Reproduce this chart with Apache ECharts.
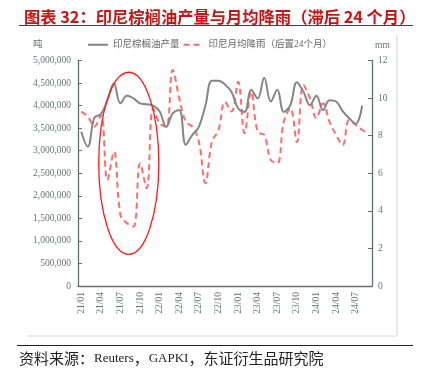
<!DOCTYPE html>
<html>
<head>
<meta charset="utf-8">
<script src="https://cdn.jsdelivr.net/npm/echarts@6/dist/echarts.min.js"></script>
<style>
  html, body { margin: 0; padding: 0; background: #fff; }
  #chart { width: 422px; height: 377px; }
</style>
</head>
<body>
<div id="chart"></div>
<script>
// monthly categories, labels shown every 3rd month
const months = [
  "21/01", "21/02", "21/03", "21/04", "21/05", "21/06", "21/07", "21/08", "21/09", "21/10", "21/11", "21/12",
  "22/01", "22/02", "22/03", "22/04", "22/05", "22/06", "22/07", "22/08", "22/09", "22/10", "22/11", "22/12",
  "23/01", "23/02", "23/03", "23/04", "23/05", "23/06", "23/07", "23/08", "23/09", "23/10", "23/11", "23/12",
  "24/01", "24/02", "24/03", "24/04", "24/05", "24/06", "24/07", "24/08", "24/09"
];
// 印尼棕榈油产量 (吨)
const production = [
  3420000, 3090000, 3730000, 3810000, 4120000, 4490000, 4050000, 4220000, 4160000, 4050000, 4030000, 4000000,
  3870000, 3530000, 3830000, 3900000, 3130000, 3350000, 3530000, 4000000, 4550000, 4550000, 4470000, 4300000,
  3940000, 3860000, 4350000, 4160000, 4620000, 4090000, 4350000, 3860000, 4010000, 4520000, 4310000, 4010000,
  4220000, 3900000, 4120000, 4090000, 3880000, 3720000, 3600000, 4000000
];
// 印尼月均降雨，后置24个月 (mm)
const rainfall = [
  9.28, 9.01, 8.48, 9.10, 5.64, 7.15, 3.78, 3.34, 3.16, 6.53, 5.20, 9.45,
  8.66, 8.48, 11.5, 9.99, 8.74, 8.48, 7.68, 5.47, 7.68, 8.30, 9.80, 9.28,
  10.87, 8.13, 10.34, 8.21, 8.04, 6.71, 6.53, 8.74, 9.46, 7.65, 10.70, 9.99,
  8.93, 9.72, 8.74, 8.04, 7.50, 8.83, 8.57, 8.30, 8.13
];
const seriesNames = ["印尼棕榈油产量", "印尼月均降雨（后置24个月）"];

const axisColor = "#5f7272";
const labelColor = "#667676";
const serif = "Liberation Serif, Noto Sans CJK SC";
const noSymbol = { color: "transparent", borderColor: "transparent", borderWidth: 0 };

const chart = echarts.init(document.getElementById("chart"));

const options = {
  animation: false,
  title: {
    text: "图表 32：印尼棕榈油产量与月均降雨（滞后 24 个月）",
    left: 19,
    top: 4,
    textStyle: {
      color: "#cc1111",
      fontSize: 16.3,
      fontWeight: "bold",
      fontFamily: "Noto Sans CJK SC"
    }
  },
  legend: {
    left: 87,
    top: 40,
    padding: 0,
    itemWidth: 20,
    itemHeight: 10,
    itemGap: 3,
    textStyle: { color: "#666", fontSize: 9.5, fontFamily: serif },
    data: [
      { name: seriesNames[0], itemStyle: noSymbol },
      { name: seriesNames[1], itemStyle: noSymbol }
    ]
  },
  grid: { left: 78, right: 50, top: 60.5, bottom: 91 },
  xAxis: {
    type: "category",
    data: months,
    boundaryGap: true,
    axisLine: { lineStyle: { color: axisColor, width: 1.3 } },
    axisTick: { inside: true, length: 4, interval: 2, lineStyle: { color: axisColor } },
    axisLabel: {
      interval: 2,
      rotate: 90,
      margin: 6,
      color: labelColor,
      fontSize: 9.5,
      fontFamily: serif
    }
  },
  yAxis: [
    {
      type: "value",
      min: 0,
      max: 5000000,
      interval: 500000,
      axisLine: { show: true, lineStyle: { color: axisColor, width: 1.3 } },
      axisTick: { show: true, inside: true, length: 4, lineStyle: { color: axisColor } },
      splitLine: { show: false },
      axisLabel: {
        margin: 7,
        color: labelColor,
        fontSize: 9.5,
        fontFamily: serif,
        formatter: v => v.toLocaleString("en-US")
      }
    },
    {
      type: "value",
      min: 0,
      max: 12,
      interval: 2,
      position: "right",
      axisLine: { show: true, lineStyle: { color: axisColor, width: 1.3 } },
      axisTick: { show: true, inside: true, length: 4, lineStyle: { color: axisColor } },
      splitLine: { show: false },
      axisLabel: { margin: 6, color: labelColor, fontSize: 9.5, fontFamily: serif }
    }
  ],
  series: [
    {
      name: seriesNames[0],
      type: "line",
      yAxisIndex: 0,
      data: production,
      smooth: 0.4,
      symbol: "none",
      z: 3,
      itemStyle: { color: "#858585" },
      lineStyle: { color: "#858585", width: 2 }
    },
    {
      name: seriesNames[1],
      type: "line",
      yAxisIndex: 1,
      data: rainfall,
      smooth: 0.4,
      symbol: "none",
      z: 2,
      itemStyle: { color: "#ff6b6b" },
      lineStyle: { color: "#ff6b6b", width: 2, type: [6, 4] }
    }
  ]
};

chart.setOption(options);

// red circle round the 2021 drop, placed from the axes
const p0 = chart.convertToPixel({ xAxisIndex: 0, yAxisIndex: 0 }, [0, 0]);
const p1 = chart.convertToPixel({ xAxisIndex: 0, yAxisIndex: 0 }, [1, 4740000]);
const pc = chart.convertToPixel({ yAxisIndex: 0 }, 2720000);
const band = p1[0] - p0[0];
const cx = p0[0] + 7.27 * band;
const rx = 4.6 * band;

chart.setOption({
  graphic: [
    // title underline
    { type: "line", z: 10, shape: { x1: 19, y1: 25.5, x2: 413, y2: 25.5 }, style: { stroke: "#444", lineWidth: 1.2 } },
    // frame
    { type: "line", z: 10, shape: { x1: 397, y1: 35, x2: 397, y2: 336 }, style: { stroke: "#d9d9d9", lineWidth: 1.2 } },
    { type: "line", z: 10, shape: { x1: 27, y1: 336, x2: 397, y2: 336 }, style: { stroke: "#d9d9d9", lineWidth: 1.2 } },
    // footer line
    { type: "line", z: 10, shape: { x1: 17, y1: 345.5, x2: 413, y2: 345.5 }, style: { stroke: "#222", lineWidth: 1 } },
    // axis names
    { type: "text", left: 33, top: 39, style: { text: "吨", fill: labelColor, font: "9.5px Noto Sans CJK SC" } },
    { type: "text", left: 375, top: 40, style: { text: "mm", fill: labelColor, font: "9.5px Liberation Serif" } },
    {
      type: "text",
      left: 19,
      top: 351,
      style: {
        text: "{c|资料来源：}{l|Reuters}{c|，}{l|GAPKI}{c|，东证衍生品研究院}",
        rich: {
          c: { fontSize: 15, fontFamily: "Noto Sans CJK SC", fill: "#222" },
          l: { fontSize: 13, fontFamily: "Liberation Serif", fill: "#222" }
        }
      }
    },
    {
      type: "ellipse",
      z: 20,
      shape: { cx: cx, cy: pc, rx: rx, ry: pc - p1[1] },
      style: { fill: "none", stroke: "#ff1a1a", lineWidth: 1.3 }
    }
  ]
});
</script>
</body>
</html>
